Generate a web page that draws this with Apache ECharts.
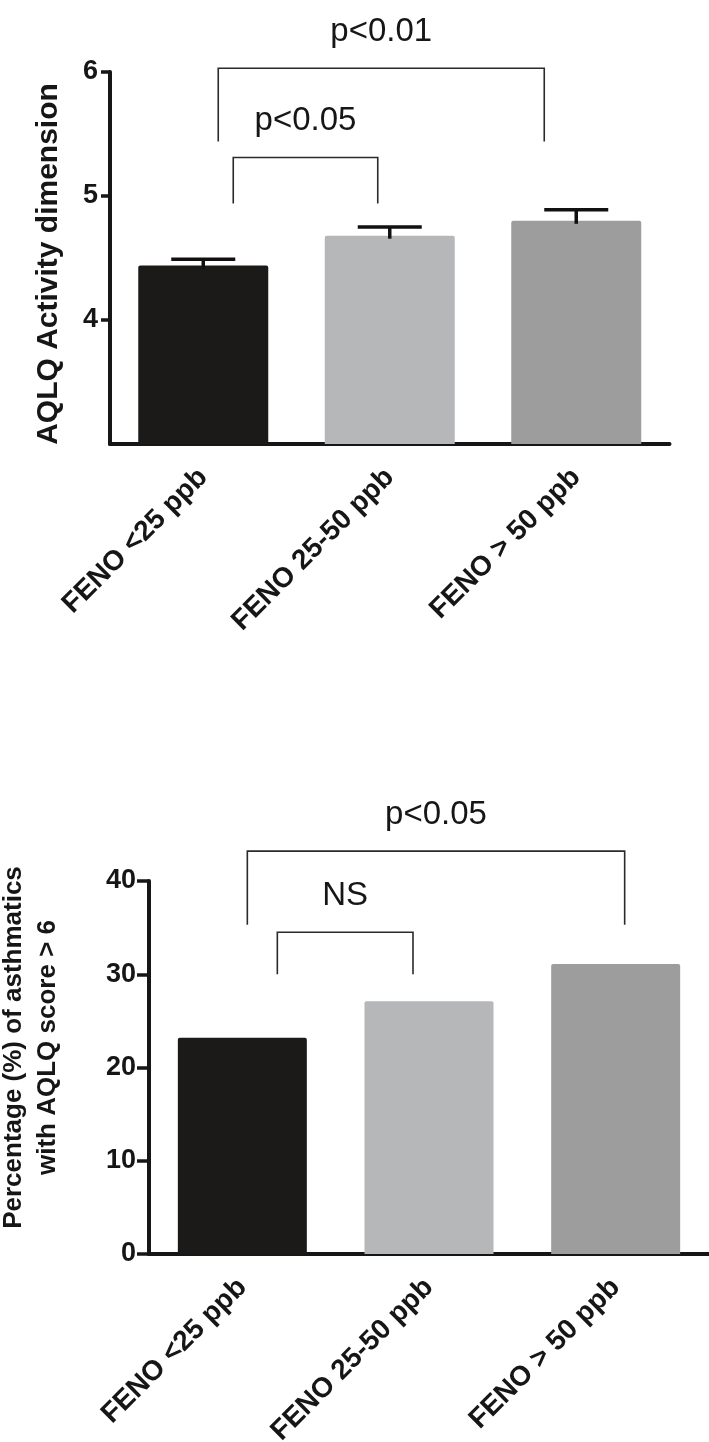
<!DOCTYPE html>
<html>
<head>
<meta charset="utf-8">
<script src="https://cdn.jsdelivr.net/npm/echarts@6/dist/echarts.min.js"></script>
<style>
html,body{margin:0;padding:0;background:#fff;}
#chart{width:709px;height:1442px;}
</style>
</head>
<body>
<div id="chart"></div>
<script>
// ---- data ----
const categories = ['FENO <25 ppb', 'FENO 25-50 ppb', 'FENO > 50 ppb'];
const activityMeans = [4.44, 4.68, 4.80];
const activitySem = [0.05, 0.07, 0.09];
const activityTicks = [4, 5, 6];
const pctAbove6 = [23.2, 27.1, 31.1];
const pctTicks = [0, 10, 20, 30, 40];
const barColors = ['#1b1a19', '#b6b7b9', '#9d9d9d'];
// brackets: [fromCategory, toCategory, topValue, legBottomValue]
const activityBrackets = [[0, 2, 6.03, 5.44], [0, 1, 5.31, 4.94]];
const activityBracketLabels = ['p<0.01', 'p<0.05'];
const pctBrackets = [[0, 2, 43.2, 35.3], [0, 1, 34.5, 30.0]];
const pctBracketLabels = ['p<0.05', 'NS'];

// ---- layout / style (not data) ----
const activityLegOffsets = [[15, -32], [30, -12]];
const pctLegOffsets = [[5, 9], [35, -16]];
const FONT = '"Liberation Sans", Arial, Helvetica, sans-serif';
const INK = '#161616';

const chart = echarts.init(document.getElementById('chart'), null, {renderer: 'canvas'});

function bracketSeries(gridIdx, brackets, labels, offsets) {
  return {
    type: 'custom',
    xAxisIndex: gridIdx, yAxisIndex: gridIdx,
    clip: false, z: 10, silent: true,
    data: brackets,
    encode: {x: [0, 1], y: [2, 3]},
    renderItem: function (params, api) {
      const i = params.dataIndex;
      const a = api.coord([api.value(0), api.value(2)]);
      const b = api.coord([api.value(1), api.value(2)]);
      const yb = api.coord([api.value(0), api.value(3)])[1];
      const ax = a[0] + offsets[i][0];
      const bx = b[0] + offsets[i][1];
      const yt = a[1];
      return {
        type: 'group',
        children: [
          {type: 'polyline', shape: {points: [[ax, yb], [ax, yt], [bx, yt], [bx, yb]]},
           style: {stroke: '#2a2a2a', lineWidth: 1.6, fill: null}},
          {type: 'text', x: (ax + bx) / 2, y: yt - 20,
           style: {text: labels[i], fill: INK, font: '33px ' + FONT, align: 'center', verticalAlign: 'bottom'}}
        ]
      };
    }
  };
}

const option = {
  animation: false,
  backgroundColor: '#fff',
  grid: [
    {left: 110, top: 72, width: 559.5, height: 372, outerBoundsMode: 'none', containLabel: false},
    {left: 149, top: 881, width: 560, height: 373, outerBoundsMode: 'none', containLabel: false}
  ],
  xAxis: [0, 1].map(g => ({
    type: 'category', gridIndex: g, data: categories,
    axisLine: {lineStyle: {color: INK, width: 4}},
    axisTick: {alignWithLabel: true, length: 12, lineStyle: {color: INK, width: 3.5}},
    axisLabel: {rotate: 45, margin: 29, color: INK, fontFamily: FONT, fontWeight: 'bold', fontSize: 28, interval: 0}
  })),
  yAxis: [
    {type: 'value', gridIndex: 0, min: 3, max: 6, interval: 1,
     name: 'AQLQ Activity dimension', nameLocation: 'middle', nameGap: 46, nameRotate: 90,
     nameTextStyle: {color: INK, fontFamily: FONT, fontWeight: 'bold', fontSize: 30, padding: [0, 12, 0, 0]},
     axisLine: {show: true, lineStyle: {color: INK, width: 4}},
     axisTick: {show: true, length: 9, customValues: activityTicks, lineStyle: {color: INK, width: 3.5}},
     axisLabel: {margin: 12, customValues: activityTicks, color: INK, fontFamily: FONT, fontWeight: 'bold', fontSize: 27},
     splitLine: {show: false}},
    {type: 'value', gridIndex: 1, min: 0, max: 40, interval: 10,
     name: 'Percentage (%) of asthmatics\nwith AQLQ score > 6', nameLocation: 'middle', nameGap: 84, nameRotate: 90,
     nameTextStyle: {color: INK, fontFamily: FONT, fontWeight: 'bold', fontSize: 26, lineHeight: 34, padding: [0, 0, 0, 40]},
     axisLine: {show: true, lineStyle: {color: INK, width: 4}},
     axisTick: {show: true, length: 12, customValues: pctTicks, lineStyle: {color: INK, width: 3.5}},
     axisLabel: {margin: 13, customValues: pctTicks, color: INK, fontFamily: FONT, fontWeight: 'bold', fontSize: 27},
     splitLine: {show: false}}
  ],
  series: [
    {type: 'bar', xAxisIndex: 0, yAxisIndex: 0, barWidth: 130, z: 2,
     data: activityMeans.map((v, i) => ({value: v, itemStyle: {color: barColors[i], borderRadius: [2, 2, 0, 0]}}))},
    {type: 'custom', xAxisIndex: 0, yAxisIndex: 0, z: 5, silent: true,
     data: activityMeans.map((m, i) => [i, m, activitySem[i]]),
     encode: {x: 0, y: 1},
     renderItem: function (params, api) {
       const i = api.value(0), m = api.value(1), s = api.value(2);
       const top = api.coord([i, m + s]);
       const base = api.coord([i, m]);
       const st = {stroke: '#111', lineWidth: 3.5};
       return {type: 'group', children: [
         {type: 'line', shape: {x1: top[0], y1: base[1] + 3, x2: top[0], y2: top[1]}, style: st},
         {type: 'line', shape: {x1: top[0] - 32, y1: top[1], x2: top[0] + 32, y2: top[1]}, style: st}
       ]};
     }},
    bracketSeries(0, activityBrackets, activityBracketLabels, activityLegOffsets),
    {type: 'bar', xAxisIndex: 1, yAxisIndex: 1, barWidth: 129, z: 2,
     data: pctAbove6.map((v, i) => ({value: v, itemStyle: {color: barColors[i], borderRadius: [2, 2, 0, 0]}}))},
    bracketSeries(1, pctBrackets, pctBracketLabels, pctLegOffsets)
  ]
};
chart.setOption(option);
</script>
</body>
</html>
